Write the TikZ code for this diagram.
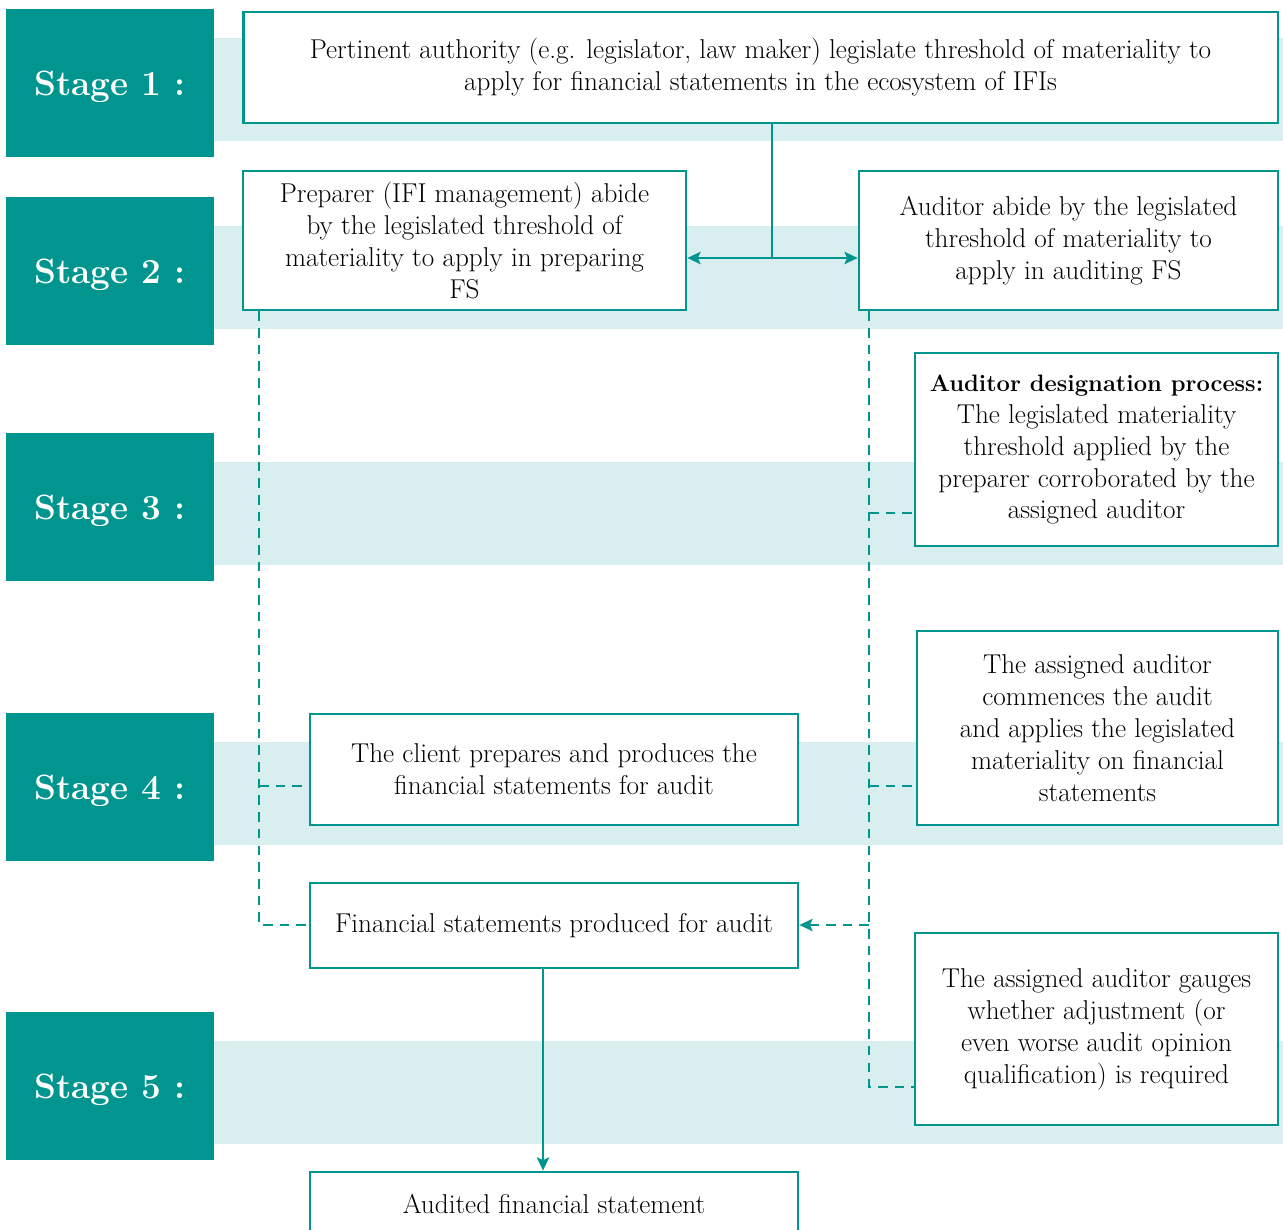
\documentclass[tikz,border=0pt]{standalone}
\usepackage{tikz}
\usetikzlibrary{arrows.meta}
\definecolor{tealdark}{HTML}{00968F}
\definecolor{teallight}{HTML}{D9EEEE}

\begin{document}
\begin{tikzpicture}[x=0.02cm,y=-0.02cm,>={Stealth[length=7.5pt,width=7pt,inset=1.5pt]},
        stage/.style={fill=tealdark,text=white,inner sep=0pt,text depth=0pt,
            minimum width=4.16cm,minimum height=2.96cm,
            font=\fontsize{20}{24}\selectfont\bfseries},
        box/.style={draw=tealdark,line width=1.6pt,fill=white,align=center,
            inner sep=2pt,font=\fontsize{15.5}{18.2}\selectfont},
        link/.style={draw=tealdark,line width=1.3pt},
        dlink/.style={link,dash pattern=on 5.5pt off 4pt}]
        \useasboundingbox (0,0) rectangle (1283,1229);
        % Bands
        \fill[teallight] (214,38) rectangle (1283,141);
        \fill[teallight] (214,226) rectangle (1283,329);
        \fill[teallight] (214,462) rectangle (1283,565);
        \fill[teallight] (214,742) rectangle (1283,845);
        \fill[teallight] (214,1041) rectangle (1283,1144);
        % Stages
        \node[stage] (s1) at (110,83) {Stage 1 :};
        \node[stage] (s2) at (110,271) {Stage 2 :};
        \node[stage] (s3) at (110,507) {Stage 3 :};
        \node[stage] (s4) at (110,787) {Stage 4 :};
        \node[stage] (s5) at (110,1086) {Stage 5 :};
        % Boxes
        \node[box,minimum width=20.7cm,minimum height=2.22cm] (authority) at (760.5,67.5)
            {Pertinent authority (e.g. legislator, law maker) legislate threshold of materiality to\\
             apply for financial statements in the ecosystem of IFIs};
        \node[box,minimum width=8.86cm,minimum height=2.78cm] (preparer) at (464.5,240.5)
            {Preparer (IFI management) abide\\ by the legislated threshold of\\
             materiality to apply in preparing\\ FS};
        \node[box,minimum width=8.38cm,minimum height=2.78cm] (auditor) at (1068.5,240.5)
            {Auditor abide by the legislated\\ threshold of materiality to\\ apply in auditing FS};
        \node[box,minimum width=7.26cm,minimum height=3.86cm] (designation) at (1096.5,449.5)
            {{\fontsize{13.5}{18.2}\selectfont\bfseries Auditor designation process:}\\ The legislated materiality\\
             threshold applied by the\\ preparer corroborated by the\\ assigned auditor};
        \node[box,minimum width=7.22cm,minimum height=3.88cm] (commence) at (1097.5,728)
            {The assigned auditor\\ commences the audit\\ and applies the legislated\\
             materiality on financial\\ statements};
        \node[box,minimum width=9.76cm,minimum height=2.22cm] (client) at (554,769.5)
            {The client prepares and produces the\\ financial statements for audit};
        \node[box,minimum width=9.76cm,minimum height=1.7cm] (produced) at (554,925.5)
            {Financial statements produced for audit};
        \node[box,minimum width=7.26cm,minimum height=3.84cm] (gauge) at (1096.5,1029)
            {The assigned auditor gauges\\ whether adjustment (or\\ even worse audit opinion\\
             qualification) is required};
        \node[box,minimum width=9.76cm,minimum height=1.28cm] (audited) at (554,1204)
            {Audited financial statement};
        % Solid links
        \coordinate (split) at (772,258);
        \coordinate (down) at (543,0);
        \draw[link] (authority.south -| split) -- (split);
        \draw[link,->] (split) -- (preparer.east |- split);
        \draw[link,->] (split) -- (auditor.west |- split);
        \draw[link,->] (produced.south -| down) -- (audited.north -| down);
        % Dashed links, preparer side
        \coordinate (k4) at (259,786);
        \coordinate (k5) at (259,925);
        \draw[dlink] (preparer.south -| k4) |- (produced.west |- k5);
        \draw[dlink] (k4) -- (client.west |- k4);
        % Dashed links, auditor side
        \coordinate (j3) at (869,513);
        \coordinate (j4) at (869,786);
        \coordinate (j5) at (869,925);
        \coordinate (j6) at (869,1087);
        \draw[dlink] (auditor.south -| j3) |- (gauge.west |- j6);
        \draw[dlink] (j3) -- (designation.west |- j3);
        \draw[dlink] (j4) -- (commence.west |- j4);
        \draw[dlink,->] (j5) -- (produced.east |- j5);
    \end{tikzpicture}
\end{document}
